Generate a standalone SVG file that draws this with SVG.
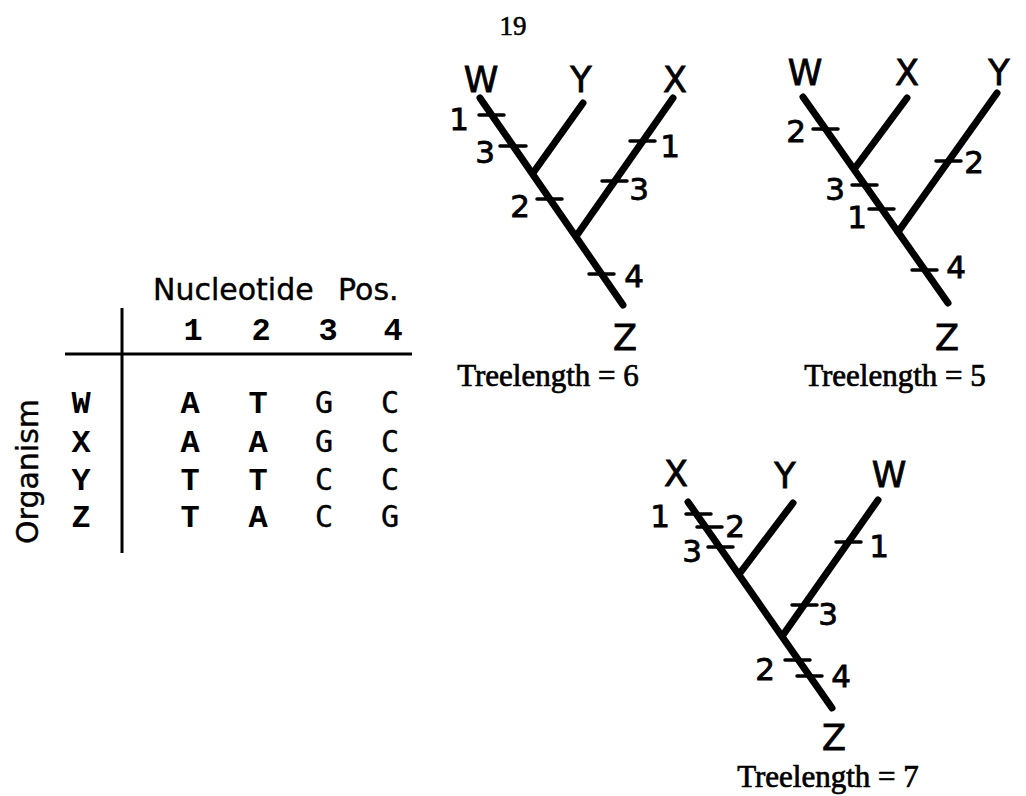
<svg xmlns="http://www.w3.org/2000/svg" width="1026" height="796" viewBox="0 0 1026 796">
<style>
.bg{fill:#ffffff}
.br{stroke:#000;stroke-width:7;stroke-linecap:round;fill:none}
.tk{stroke:#000;stroke-width:3.5;stroke-linecap:round;fill:none}
.rule{stroke:#000;stroke-width:3;fill:none}
.leaf{font-family:"DejaVu Sans",sans-serif;font-size:35px;fill:#000;stroke:#000;stroke-width:0.8;text-anchor:middle}
.num{font-family:"DejaVu Sans",sans-serif;font-size:31px;fill:#000;stroke:#000;stroke-width:0.8;text-anchor:middle}
.tl{font-family:"Liberation Serif",serif;font-size:31px;fill:#000;stroke:#000;stroke-width:0.7;text-anchor:middle}
.hdr{font-family:"DejaVu Sans",sans-serif;font-size:30px;fill:#000;stroke:#000;stroke-width:0.4}
.mono{font-family:"Liberation Mono",monospace;font-size:32px;font-weight:bold;fill:#000;text-anchor:middle}
.mono2{font-family:"DejaVu Sans Mono",monospace;font-size:30px;fill:#000;stroke:#000;stroke-width:0.4;text-anchor:middle}
</style>
<rect class="bg" x="0" y="0" width="1026" height="796"/>
<g id="page-number"><text x="513" y="35" font-family="Liberation Serif, serif" font-size="27" stroke="#000" stroke-width="0.6" text-anchor="middle">19</text></g>

<g id="table">
<text class="hdr" x="153" y="300">Nucleotide</text>
<text class="hdr" x="338" y="300">Pos.</text>
<line class="rule" x1="122" y1="308" x2="122" y2="553"/>
<line class="rule" x1="65" y1="354" x2="412" y2="354"/>
<text class="mono" x="193" y="340">1</text>
<text class="mono" x="261" y="340">2</text>
<text class="mono" x="328" y="340">3</text>
<text class="mono" x="393" y="340">4</text>
<text class="hdr" text-anchor="middle" font-size="33.5" transform="translate(38,471.5) rotate(-90)">Organism</text>
<text class="mono" x="81" y="413">W</text>
<text class="mono" x="81" y="452">X</text>
<text class="mono" x="81" y="490">Y</text>
<text class="mono" x="81" y="527">Z</text>
<text class="mono" x="190" y="413">A</text><text class="mono" x="258" y="413">T</text><text class="mono2" x="324" y="413">G</text><text class="mono2" x="390" y="413">C</text>
<text class="mono" x="190" y="452">A</text><text class="mono" x="258" y="452">A</text><text class="mono2" x="324" y="452">G</text><text class="mono2" x="390" y="452">C</text>
<text class="mono" x="190" y="490">T</text><text class="mono" x="258" y="490">T</text><text class="mono2" x="324" y="490">C</text><text class="mono2" x="390" y="490">C</text>
<text class="mono" x="190" y="527">T</text><text class="mono" x="258" y="527">A</text><text class="mono2" x="324" y="527">C</text><text class="mono2" x="390" y="527">G</text>
</g>

<g id="connectors">
<!-- tree 1 -->
<line class="br" x1="480" y1="98" x2="623" y2="305"/>
<line class="br" x1="583" y1="103" x2="533" y2="173"/>
<line class="br" x1="673" y1="98" x2="577" y2="235"/>
<line class="tk" x1="479" y1="115" x2="504" y2="115"/>
<line class="tk" x1="500" y1="146" x2="526" y2="146"/>
<line class="tk" x1="537" y1="199" x2="562" y2="199"/>
<line class="tk" x1="589" y1="274" x2="614" y2="274"/>
<line class="tk" x1="630" y1="141" x2="655" y2="141"/>
<line class="tk" x1="602" y1="181" x2="627" y2="181"/>
<!-- tree 2 -->
<line class="br" x1="803" y1="97" x2="948" y2="303"/>
<line class="br" x1="907" y1="98" x2="855" y2="168"/>
<line class="br" x1="997" y1="93" x2="898" y2="232"/>
<line class="tk" x1="813" y1="129" x2="838" y2="129"/>
<line class="tk" x1="852" y1="185" x2="877" y2="185"/>
<line class="tk" x1="869" y1="209" x2="894" y2="209"/>
<line class="tk" x1="912" y1="270" x2="937" y2="270"/>
<line class="tk" x1="936" y1="161" x2="961" y2="161"/>
<!-- tree 3 -->
<line class="br" x1="688" y1="502" x2="832" y2="708"/>
<line class="br" x1="793" y1="503" x2="740" y2="573"/>
<line class="br" x1="878" y1="500" x2="783" y2="635"/>
<line class="tk" x1="686" y1="514" x2="711" y2="514"/>
<line class="tk" x1="697" y1="527" x2="722" y2="527"/>
<line class="tk" x1="708" y1="547" x2="733" y2="547"/>
<line class="tk" x1="836" y1="542" x2="861" y2="542"/>
<line class="tk" x1="792" y1="605" x2="817" y2="605"/>
<line class="tk" x1="785" y1="660" x2="810" y2="660"/>
<line class="tk" x1="797" y1="676" x2="822" y2="676"/>
</g>

<g id="tree1">
<g id="t1-W"><text class="leaf" x="481" y="92">W</text></g>
<g id="t1-Y"><text class="leaf" x="581" y="92">Y</text></g>
<g id="t1-X"><text class="leaf" x="675" y="92">X</text></g>
<g id="t1-Z"><text class="leaf" x="625" y="350">Z</text></g>
<text class="num" x="459" y="130">1</text>
<text class="num" x="485" y="163">3</text>
<text class="num" x="520" y="217">2</text>
<text class="num" x="634" y="287">4</text>
<text class="num" x="670" y="157">1</text>
<text class="num" x="639" y="200">3</text>
<text class="tl" x="548" y="386">Treelength = 6</text>
</g>

<g id="tree2">
<g id="t2-W"><text class="leaf" x="805" y="85">W</text></g>
<g id="t2-X"><text class="leaf" x="907" y="85">X</text></g>
<g id="t2-Y"><text class="leaf" x="999" y="85">Y</text></g>
<g id="t2-Z"><text class="leaf" x="947" y="350">Z</text></g>
<text class="num" x="796" y="142">2</text>
<text class="num" x="835" y="200">3</text>
<text class="num" x="857" y="228">1</text>
<text class="num" x="956" y="278">4</text>
<text class="num" x="974" y="173">2</text>
<text class="tl" x="895" y="386">Treelength = 5</text>
</g>

<g id="tree3">
<g id="t3-X"><text class="leaf" x="676" y="486">X</text></g>
<g id="t3-Y"><text class="leaf" x="785" y="488">Y</text></g>
<g id="t3-W"><text class="leaf" x="889" y="487">W</text></g>
<g id="t3-Z"><text class="leaf" x="834" y="750">Z</text></g>
<text class="num" x="660" y="527">1</text>
<text class="num" x="735" y="537">2</text>
<text class="num" x="692" y="562">3</text>
<text class="num" x="879" y="557">1</text>
<text class="num" x="828" y="625">3</text>
<text class="num" x="765" y="680">2</text>
<text class="num" x="841" y="687">4</text>
<text class="tl" x="828" y="787">Treelength = 7</text>
</g>
</svg>
